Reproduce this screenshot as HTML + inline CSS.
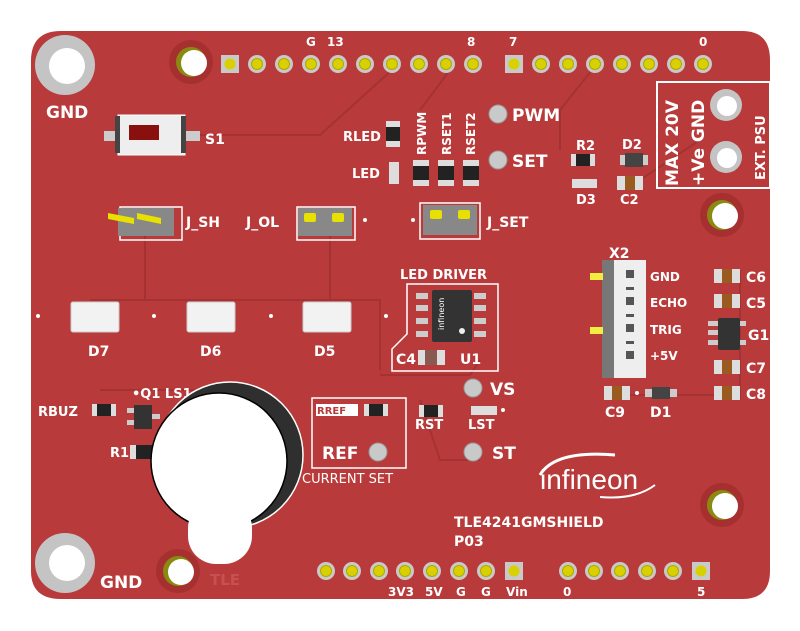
<!DOCTYPE html>
<html><head><meta charset="utf-8"><style>
html,body{margin:0;padding:0;background:#fff;width:800px;height:631px;overflow:hidden}
svg{display:block}
text{font-family:"DejaVu Sans","Liberation Sans",sans-serif;font-weight:bold;fill:#fff}
</style></head><body>
<svg width="800" height="631" viewBox="0 0 800 631" xmlns="http://www.w3.org/2000/svg">
<defs>
<g id="pin"><circle r="9" fill="#c9c9c9"/><circle r="5.5" fill="#d8d000" stroke="#b0a800"/></g>
<g id="spin"><rect x="-9" y="-9" width="18" height="18" fill="#c9c9c9"/><circle r="5.5" fill="#d8d000"/></g>
<g id="res"><rect x="-12" y="-6" width="24" height="12" fill="#ddd"/><rect x="-7" y="-6" width="14" height="12" fill="#222"/></g>
<g id="cap"><rect x="-13" y="-7" width="26" height="14" fill="#ddd"/><rect x="-5" y="-7" width="10" height="14" fill="#9a5a20"/></g>
<g id="tp"><circle r="9" fill="#c9c9c9" stroke="#999"/></g>
</defs>
<!-- board -->
<path d="M61 31 H742 Q770 31 770 60 V571 Q770 599 742 599 H61 Q31 599 31 571 V61 Q31 31 61 31 Z" fill="#b83a3a"/>
<!-- traces -->
<g fill="none" stroke="#a53232" stroke-width="2">
<path d="M200 135 H320 L392 70"/><path d="M90 300 H380 V370"/><path d="M145 230 V300"/><path d="M330 230 V300"/>
<path d="M450 70 L420 110"/><path d="M600 60 L560 110 V150"/><path d="M640 180 L700 140"/>
<path d="M380 375 H470 L480 360"/><path d="M610 395 H740"/><path d="M740 270 V400"/>
<path d="M100 390 H220"/><path d="M420 400 L440 460 H480"/>
</g>
<!-- mounting holes -->
<circle cx="65" cy="65" r="30" fill="#c4c4c4"/><circle cx="67" cy="66" r="18" fill="#fff"/>
<circle cx="65" cy="563" r="30" fill="#c4c4c4"/><circle cx="67" cy="563" r="18" fill="#fff"/>
<g fill="#a63030"><circle cx="191" cy="62" r="22"/><circle cx="722" cy="215" r="22"/><circle cx="722" cy="505" r="22"/><circle cx="178" cy="571" r="22"/></g>
<g fill="#8a8a10"><circle cx="191" cy="62" r="15"/><circle cx="722" cy="215" r="15"/><circle cx="722" cy="505" r="15"/><circle cx="178" cy="571" r="15"/></g>
<g fill="#fff"><circle cx="194" cy="63" r="13"/><circle cx="725" cy="216" r="13"/><circle cx="725" cy="506" r="13"/><circle cx="181" cy="572" r="13"/></g>
<text x="46" y="118" font-size="17">GND</text>
<text x="100" y="588" font-size="17">GND</text>
<text x="210" y="585" font-size="15" fill="#c85050" style="fill:#c85050">TLE</text>
<!-- top header -->
<use href="#spin" x="230" y="64"/>
<use href="#pin" x="257" y="64"/><use href="#pin" x="284" y="64"/><use href="#pin" x="311" y="64"/><use href="#pin" x="338" y="64"/><use href="#pin" x="365" y="64"/><use href="#pin" x="392" y="64"/><use href="#pin" x="419" y="64"/><use href="#pin" x="446" y="64"/><use href="#pin" x="473" y="64"/>
<use href="#spin" x="514" y="64"/>
<use href="#pin" x="541" y="64"/><use href="#pin" x="568" y="64"/><use href="#pin" x="595" y="64"/><use href="#pin" x="622" y="64"/><use href="#pin" x="649" y="64"/><use href="#pin" x="676" y="64"/><use href="#pin" x="703" y="64"/>
<g font-size="12"><text x="306" y="46">G</text><text x="327" y="46">13</text><text x="467" y="46">8</text><text x="509" y="46">7</text><text x="699" y="46">0</text></g>
<!-- bottom header -->
<use href="#pin" x="326" y="571"/><use href="#pin" x="352" y="571"/><use href="#pin" x="379" y="571"/><use href="#pin" x="405" y="571"/><use href="#pin" x="432" y="571"/><use href="#pin" x="459" y="571"/><use href="#pin" x="486" y="571"/><use href="#spin" x="514" y="571"/>
<use href="#pin" x="568" y="571"/><use href="#pin" x="594" y="571"/><use href="#pin" x="620" y="571"/><use href="#pin" x="647" y="571"/><use href="#pin" x="673" y="571"/><use href="#spin" x="701" y="571"/>
<g font-size="12"><text x="388" y="596">3V3</text><text x="425" y="596">5V</text><text x="456" y="596">G</text><text x="481" y="596">G</text><text x="506" y="596">Vin</text><text x="563" y="596">0</text><text x="697" y="596">5</text></g>
<!-- S1 -->
<rect x="104" y="131" width="96" height="10" fill="#ccc"/>
<rect x="118" y="115" width="67" height="40" fill="#eee" stroke="#fff"/>
<rect x="115" y="116" width="5" height="37" fill="#444"/><rect x="181" y="116" width="5" height="37" fill="#444"/>
<rect x="129" y="125" width="30" height="15" fill="#8a1010"/>
<text x="205" y="144" font-size="14">S1</text>
<!-- RLED / LED -->
<rect x="386" y="121" width="14" height="26" fill="#ddd"/><rect x="386" y="127" width="14" height="14" fill="#222"/>
<text x="343" y="141" font-size="13">RLED</text>
<rect x="389" y="162" width="10" height="22" fill="#ddd"/>
<text x="352" y="178" font-size="13">LED</text>
<!-- RPWM RSET1 RSET2 -->
<g font-size="12"><text transform="translate(426,155) rotate(-90)">RPWM</text><text transform="translate(451,155) rotate(-90)">RSET1</text><text transform="translate(475,155) rotate(-90)">RSET2</text></g>
<g><rect x="413" y="160" width="16" height="26" fill="#ddd"/><rect x="413" y="166" width="16" height="14" fill="#222"/>
<rect x="438" y="160" width="16" height="26" fill="#ddd"/><rect x="438" y="166" width="16" height="14" fill="#222"/>
<rect x="463" y="160" width="16" height="26" fill="#ddd"/><rect x="463" y="166" width="16" height="14" fill="#222"/></g>
<use href="#tp" x="498" y="114"/><text x="512" y="121" font-size="17">PWM</text>
<use href="#tp" x="498" y="160"/><text x="512" y="167" font-size="17">SET</text>
<!-- R2 D2 D3 C2 -->
<use href="#res" x="583" y="160"/><text x="576" y="150" font-size="13">R2</text>
<rect x="620" y="155" width="28" height="10" fill="#ccc"/><rect x="625" y="153" width="18" height="14" fill="#444"/>
<text x="622" y="149" font-size="13">D2</text>
<rect x="572" y="179" width="25" height="9" fill="#ddd"/><text x="576" y="204" font-size="13">D3</text>
<use href="#cap" x="630" y="183"/><text x="620" y="204" font-size="13">C2</text>
<!-- PSU box -->
<rect x="657" y="82" width="113" height="106" fill="none" stroke="#fff" stroke-width="2"/>
<g font-size="17"><text transform="translate(678,186) rotate(-90)">MAX 20V</text><text transform="translate(704,186) rotate(-90)">+Ve GND</text></g>
<text transform="translate(765,180) rotate(-90)" font-size="13">EXT. PSU</text>
<circle cx="726" cy="105" r="16" fill="#c4c4c4"/><circle cx="727" cy="106" r="10" fill="#fff"/>
<circle cx="726" cy="157" r="16" fill="#c4c4c4"/><circle cx="727" cy="158" r="10" fill="#fff"/>
<!-- jumpers -->
<g>
<rect x="120" y="207" width="62" height="33" fill="none" stroke="#fff" stroke-width="1.5"/>
<rect x="118" y="208" width="56" height="28" fill="#888"/>
<path d="M108 213 L134 218 L134 224 L108 219Z M137 213 L161 218 L161 224 L137 219Z" fill="#e8e000"/>
<text x="186" y="227" font-size="14">J_SH</text>
<rect x="297" y="207" width="58" height="33" fill="none" stroke="#fff" stroke-width="1.5"/>
<rect x="298" y="208" width="54" height="28" fill="#888"/>
<rect x="304" y="213" width="12" height="9" fill="#e8e000" rx="2"/><rect x="332" y="213" width="12" height="9" fill="#e8e000" rx="2"/>
<text x="246" y="227" font-size="14">J_OL</text>
<rect x="420" y="203" width="60" height="36" fill="none" stroke="#fff" stroke-width="1.5"/>
<rect x="423" y="205" width="54" height="30" fill="#888"/>
<rect x="430" y="210" width="12" height="9" fill="#e8e000" rx="2"/><rect x="458" y="210" width="12" height="9" fill="#e8e000" rx="2"/>
<text x="487" y="227" font-size="14">J_SET</text>
</g>
<!-- D7 D6 D5 -->
<g fill="#f2f2f2" stroke="#ccc">
<rect x="71" y="302" width="48" height="30" rx="2"/><rect x="187" y="302" width="48" height="30" rx="2"/><rect x="303" y="302" width="48" height="30" rx="2"/></g>
<g font-size="14"><text x="88" y="356">D7</text><text x="200" y="356">D6</text><text x="314" y="356">D5</text></g>
<g fill="#fff"><circle cx="38" cy="316" r="2"/><circle cx="154" cy="316" r="2"/><circle cx="271" cy="316" r="2"/><circle cx="386" cy="316" r="2"/><circle cx="365" cy="220" r="2"/><circle cx="413" cy="220" r="2"/></g>
<!-- LED driver -->
<text x="400" y="279" font-size="13">LED DRIVER</text>
<path d="M407 284 H498 V371 H392 V349 L407 334 Z" fill="none" stroke="#fff" stroke-width="1.5"/>
<g fill="#ccc"><rect x="416" y="293" width="12" height="6"/><rect x="416" y="305" width="12" height="6"/><rect x="416" y="318" width="12" height="6"/><rect x="416" y="331" width="12" height="6"/>
<rect x="474" y="293" width="12" height="6"/><rect x="474" y="305" width="12" height="6"/><rect x="474" y="318" width="12" height="6"/><rect x="474" y="331" width="12" height="6"/></g>
<rect x="432" y="290" width="40" height="52" fill="#333" rx="2"/>
<text transform="translate(444,330) rotate(-90)" font-size="8" style="font-weight:normal">infineon</text>
<circle cx="462" cy="331" r="3" fill="#eee"/>
<rect x="418" y="350" width="27" height="15" fill="#ddd"/><rect x="425" y="350" width="12" height="15" fill="#8a5a50"/>
<text x="396" y="364" font-size="14">C4</text><text x="460" y="364" font-size="14">U1</text>
<!-- X2 -->
<text x="609" y="258" font-size="14">X2</text>
<rect x="602" y="260" width="44" height="118" fill="#eee"/><rect x="602" y="260" width="12" height="118" fill="#777"/>
<rect x="590" y="273" width="13" height="7" fill="#f0ee40"/><rect x="590" y="327" width="13" height="7" fill="#f0ee40"/>
<g fill="#555"><rect x="626" y="270" width="8" height="8"/><rect x="626" y="297" width="8" height="8"/><rect x="626" y="324" width="8" height="8"/><rect x="626" y="351" width="8" height="8"/>
<rect x="626" y="287" width="8" height="3"/><rect x="626" y="314" width="8" height="3"/><rect x="626" y="341" width="8" height="3"/></g>
<g font-size="12"><text x="650" y="281">GND</text><text x="650" y="307">ECHO</text><text x="650" y="334">TRIG</text><text x="650" y="360">+5V</text></g>
<!-- C6 C5 G1 C7 C8 -->
<use href="#cap" x="727" y="276"/><use href="#cap" x="727" y="301"/><use href="#cap" x="727" y="367"/><use href="#cap" x="727" y="393"/>
<g font-size="14"><text x="746" y="282">C6</text><text x="746" y="308">C5</text><text x="748" y="340">G1</text><text x="746" y="373">C7</text><text x="746" y="399">C8</text></g>
<g fill="#ccc"><rect x="708" y="321" width="10" height="5"/><rect x="708" y="330" width="10" height="5"/><rect x="708" y="340" width="10" height="5"/><rect x="738" y="321" width="8" height="5"/><rect x="738" y="340" width="8" height="5"/></g>
<rect x="718" y="318" width="22" height="32" fill="#333" rx="2"/>
<!-- C9 D1 -->
<use href="#cap" x="617" y="393"/><text x="605" y="417" font-size="14">C9</text>
<rect x="645" y="389" width="32" height="8" fill="#ccc"/><rect x="652" y="387" width="18" height="12" fill="#444"/>
<text x="650" y="417" font-size="14">D1</text>
<circle cx="637" cy="393" r="2" fill="#fff"/>
<!-- VS LST ST RST -->
<use href="#tp" x="473" y="388"/><text x="490" y="395" font-size="17">VS</text>
<rect x="471" y="406" width="26" height="9" fill="#ddd"/><circle cx="503" cy="410" r="2" fill="#fff"/>
<text x="468" y="429" font-size="13">LST</text>
<use href="#tp" x="473" y="452"/><text x="492" y="459" font-size="17">ST</text>
<use href="#res" x="431" y="411"/><text x="415" y="429" font-size="13">RST</text>
<!-- RREF box -->
<rect x="312" y="398" width="94" height="70" fill="none" stroke="#fff" stroke-width="1.5"/>
<rect x="316" y="404" width="42" height="12" fill="#fff"/><text x="317" y="414" font-size="10" style="fill:#b83a3a">RREF</text>
<use href="#res" x="376" y="410"/>
<text x="322" y="459" font-size="17">REF</text><use href="#tp" x="378" y="452"/>
<text x="302" y="483" font-size="13" style="font-weight:normal">CURRENT SET</text>
<!-- RBUZ Q1 R1 -->
<use href="#res" x="104" y="410"/><text x="38" y="416" font-size="13">RBUZ</text>
<text x="132" y="398" font-size="13">•Q1 LS1</text>
<rect x="127" y="408" width="8" height="5" fill="#ccc"/><rect x="127" y="420" width="8" height="5" fill="#ccc"/><rect x="150" y="414" width="10" height="5" fill="#ccc"/>
<rect x="134" y="405" width="18" height="24" fill="#333"/>
<rect x="130" y="445" width="26" height="14" fill="#ddd"/><rect x="136" y="445" width="20" height="14" fill="#222"/>
<text x="110" y="457" font-size="13">R1</text>
<!-- buzzer -->
<circle cx="230" cy="455" r="73" fill="#2f2f2f" stroke="#fff" stroke-width="1.5"/>
<circle cx="219" cy="461" r="68" fill="#fff" stroke="#000" stroke-width="1.5"/>
<rect x="188" y="500" width="64" height="64" rx="28" fill="#fff"/>
<!-- infineon logo -->
<text x="540" y="489" font-size="28" style="font-weight:normal;font-family:'Liberation Sans',sans-serif">infineon</text>
<path d="M540 475 Q555 450 615 455" fill="none" stroke="#fff" stroke-width="3"/>
<path d="M600 497 Q635 500 655 485" fill="none" stroke="#fff" stroke-width="2"/>
<text x="454" y="527" font-size="14">TLE4241GMSHIELD</text>
<text x="454" y="546" font-size="14">P03</text>
</svg>
</body></html>
